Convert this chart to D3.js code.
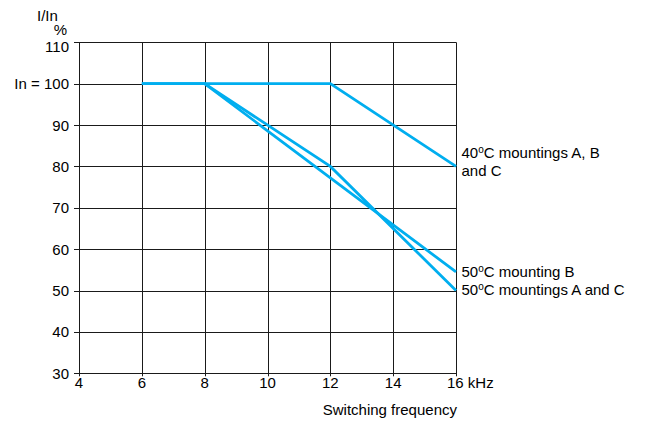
<!DOCTYPE html>
<html>
<head>
<meta charset="utf-8">
<script src="https://cdn.jsdelivr.net/npm/d3@7"></script>
<style>
  body { margin: 0; background: #fff; }
  svg { display: block; font-family: "Liberation Sans", Arial, sans-serif; }
</style>
</head>
<body>
<svg id="chart" width="646" height="423"></svg>
<script>
const xTicks = [4, 6, 8, 10, 12, 14, 16];
const yTicks = [30, 40, 50, 60, 70, 80, 90, 100, 110];

// each curve: frequency (kHz) and I/In (%)
const freq40 = [6, 12, 16];
const load40 = [100, 100, 80];
const freq50B = [6, 8, 16];
const load50B = [100, 100, 54.5];
const freq50AC = [8, 12, 16];
const load50AC = [100, 80, 50];

const curves = [
  { freq: freq40, load: load40, label: ["40|C mountings A, B", "and C"], dy: [-8, 10] },
  { freq: freq50B, load: load50B, label: ["50|C mounting B"], dy: [5] },
  { freq: freq50AC, load: load50AC, label: ["50|C mountings A and C"], dy: [4.5] },
];

const blue = "#00aeef";
const fs = 15;
const svg = d3.select("#chart");

const x = d3.scaleLinear().domain([4, 16]).range([79, 456]);
const y = d3.scaleLinear().domain([30, 110]).range([373.3, 42.3]);

// grid
const grid = svg.append("g").attr("stroke", "#1a1a1a").attr("stroke-width", 1);
grid.selectAll("line.v")
  .data(xTicks)
  .join("line")
  .attr("class", "v")
  .attr("x1", d => Math.round(x(d)) + 0.5)
  .attr("x2", d => Math.round(x(d)) + 0.5)
  .attr("y1", y(110))
  .attr("y2", y(30) + 3);
grid.selectAll("line.h")
  .data(yTicks)
  .join("line")
  .attr("class", "h")
  .attr("x1", x(4) - 5)
  .attr("x2", x(16))
  .attr("y1", d => Math.round(y(d)) + 0.5)
  .attr("y2", d => Math.round(y(d)) + 0.5);

// tick labels
svg.selectAll("text.xt")
  .data(xTicks)
  .join("text")
  .attr("class", "xt")
  .attr("x", d => x(d) + (d === 16 ? -9 : 0))
  .attr("y", 388)
  .attr("text-anchor", d => d === 16 ? "start" : "middle")
  .attr("font-size", fs)
  .text(d => d === 16 ? "16 kHz" : d);

svg.selectAll("text.yt")
  .data(yTicks)
  .join("text")
  .attr("class", "yt")
  .attr("x", 69)
  .attr("y", d => y(d) + (d === 110 ? 10 : 5.5))
  .attr("text-anchor", "end")
  .attr("font-size", fs)
  .text(d => d === 100 ? "In = 100" : d);

svg.append("text").attr("x", 67).attr("y", 35).attr("text-anchor", "end")
  .attr("font-size", fs).text("%");
svg.append("text").attr("x", 37).attr("y", 21)
  .attr("font-size", fs).text("I/In");
svg.append("text").attr("x", 457).attr("y", 415).attr("text-anchor", "end")
  .attr("font-size", fs).text("Switching frequency");

// curves
const line = d3.line().x(d => x(d[0])).y(d => y(d[1]));
curves.forEach(c => {
  const pts = c.freq.map((f, i) => [f, c.load[i]]);
  svg.append("path")
    .attr("d", line(pts))
    .attr("fill", "none")
    .attr("stroke", blue)
    .attr("stroke-width", 2.8)
    .attr("stroke-linejoin", "miter");

  const endY = y(c.load[c.load.length - 1]);
  c.label.forEach((txt, i) => {
    const t = svg.append("text")
      .attr("x", 461.5)
      .attr("y", endY + c.dy[i])
      .attr("font-size", fs);
    const parts = txt.split("|");
    if (parts.length > 1) {
      t.append("tspan").text(parts[0]);
      t.append("tspan").attr("font-size", 10).attr("dy", -5).text("o");
      t.append("tspan").attr("dy", 5).text(parts[1]);
    } else {
      t.text(txt);
    }
  });
});
</script>
</body>
</html>
